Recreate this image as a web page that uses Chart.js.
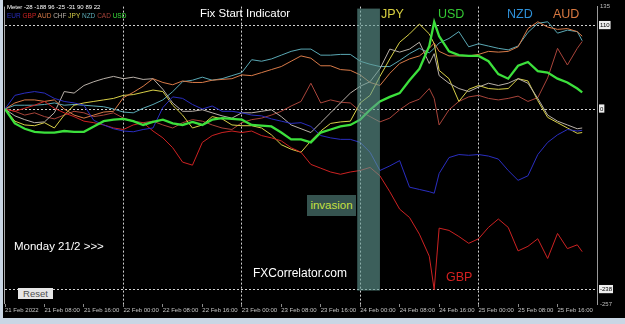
<!DOCTYPE html>
<html>
<head>
<meta charset="utf-8">
<script src="https://cdn.jsdelivr.net/npm/chart.js@4.4.1/dist/chart.umd.min.js"></script>
<style>
  html,body{margin:0;padding:0;width:625px;height:324px;overflow:hidden;background:#c9d6e4;font-family:"Liberation Sans",Arial,sans-serif}
  #wrap{position:absolute;left:3px;top:0;width:622px;height:318px;background:#000}
  canvas{display:block}
  .t{position:absolute;white-space:nowrap;line-height:1}
</style>
</head>
<body>
<div id="wrap"><canvas id="fx" width="622" height="318"></canvas></div>

<div class="t" style="left:7px;top:4px;font-size:6px;color:#fff">Meter -28 -188 96 -25 -31 90 89 22</div>
<div class="t" id="legend" style="left:7px;top:13px;font-size:6.5px"></div>
<div class="t" style="left:200px;top:8px;font-size:11.5px;color:#fff">Fix Start Indicator</div>
<div class="t" style="left:381px;top:8px;font-size:12.5px;color:#d8d040">JPY</div>
<div class="t" style="left:438px;top:8px;font-size:12.5px;color:#34c834">USD</div>
<div class="t" style="left:507px;top:8px;font-size:12.5px;color:#2e90d8">NZD</div>
<div class="t" style="left:553px;top:8px;font-size:12.5px;color:#d87840">AUD</div>
<div class="t" style="left:14px;top:241px;font-size:11.5px;color:#fff">Monday 21/2 &gt;&gt;&gt;</div>
<div class="t" style="left:253px;top:267px;font-size:12px;color:#fff">FXCorrelator.com</div>
<div class="t" style="left:446px;top:271px;font-size:12.5px;color:#d42020">GBP</div>
<div class="t" style="left:307px;top:195px;width:49px;height:21px;background:#35534f;color:#c8e040;font-size:11.5px;line-height:21px;text-align:center">invasion</div>
<div class="t" style="left:18px;top:288px;width:35px;height:11px;background:#e6e6e6;color:#505050;font-size:9.5px;line-height:11px;text-align:center">Reset</div>

<script>
// hours since 21 Feb 00:00
const hours = [0,2,4,6,8,10,12,14,16,18,20,22,24,26,28,30,32,34,36,38,40,42,44,46,48,50,52,54,56,58,
  60,62,64,66,68,70,72,74,76,78,80,82,84,86,87,88,90,92,94,96,98,100,102,104,106,108,110,112,114,116,117];

const eur = [0,18,21,23,21,14,10,8,5,-15,-21,-26,-29,-30,-27,-25,2,16,14,6,0,4,-3,-3,-5,-8,-9,-13,-16,-19,
  -18,-23,-35,-38,-40,-40,-44,-57,-81,-75,-68,-103,-106,-109,-111,-85,-64,-60,-61,-60,-62,-66,-81,-94,-88,-60,-44,-34,-27,-29,-28];
const gbp = [0,-3,1,5,10,1,-5,-10,-16,-18,-21,-25,-27,-21,-18,-29,-38,-51,-70,-74,-44,-35,-31,-29,-31,-29,-35,-38,-42,-51,
  -57,-73,-78,-83,-86,-83,-81,-77,-88,-109,-132,-143,-165,-194,-238,-157,-160,-168,-177,-171,-156,-145,-156,-187,-181,-171,-197,-164,-184,-179,-188];
const aud = [0,8,12,12,10,12,0,-8,-12,-8,-4,-3,15,22,30,40,35,32,37,35,35,38,39,40,45,44,48,52,56,63,
  70,67,57,57,52,51,45,35,31,47,60,66,70,80,87,76,70,70,70,72,76,75,76,82,106,115,108,105,106,102,96];
const chf = [0,-9,-14,-18,-17,-5,23,21,31,36,40,43,40,42,39,40,26,8,-3,-3,-1,-5,-9,-12,-5,-5,-3,-1,-10,-21,
  -26,-31,-18,-5,8,21,30,36,53,79,75,79,88,60,73,44,34,27,23,29,34,31,34,40,34,14,-8,-16,-21,-26,-25];
const jpy = [0,-16,-21,-22,-18,-25,-8,5,8,10,12,14,18,19,22,25,23,5,-8,-25,-21,-10,-13,-21,-22,-22,-25,-34,-47,-53,
  -57,-42,-29,-19,-17,-16,8,18,43,66,88,99,112,99,86,51,40,10,26,31,27,26,27,40,37,11,-11,-18,-25,-32,-31];
const nzd = [0,5,5,5,6,8,5,6,5,4,3,0,-4,-5,1,6,12,23,36,38,42,38,40,44,48,65,63,66,71,76,
  79,79,71,71,72,72,63,59,56,56,64,73,80,74,80,87,93,102,82,86,83,80,78,83,101,113,115,100,104,102,90];
const cad = [0,-3,-8,-5,-10,-13,-8,-3,-5,-10,-8,-5,-12,-16,-18,-16,-21,-25,-18,-14,-16,-21,-25,-27,-18,-14,-12,-8,-3,4,
  10,34,8,12,9,8,-3,-10,-17,-12,-1,8,13,27,14,-21,-1,10,16,18,14,12,14,17,10,15,41,80,58,80,89];
const usd = [0,-19,-26,-30,-31,-31,-29,-30,-30,-23,-16,-14,-13,-16,-21,-17,-14,-19,-21,-17,-21,-14,-12,-13,-14,-21,-22,-23,-31,-40,
  -40,-44,-31,-27,-23,-21,-14,-1,10,16,21,38,53,83,115,96,76,71,70,70,63,46,40,57,62,50,48,40,35,27,22];

const currencies = ['EUR','GBP','AUD','CHF','JPY','NZD','CAD','USD'];
const colors = ['#2a2ec0','#cc2222','#d87a48','#b8b0a8','#d8d048','#5aa8b4','#a8443a','#3ce03c'];
const series = [eur,gbp,aud,chf,jpy,nzd,cad,usd];

const xTickHours = [0,8,16,24,32,40,48,56,64,72,80,88,96,104,112];
const xTickLabels = ['21 Feb 2022','21 Feb 08:00','21 Feb 16:00','22 Feb 00:00','22 Feb 08:00','22 Feb 16:00',
  '23 Feb 00:00','23 Feb 08:00','23 Feb 16:00','24 Feb 00:00','24 Feb 08:00','24 Feb 16:00',
  '25 Feb 00:00','25 Feb 08:00','25 Feb 16:00'];
const dayLines = [24,48,72,96];
const yTicks = [135,110,0,-238,-257];
const yBoxed = [110,0,-238];
const invasion = [71.4,76];

document.getElementById('legend').innerHTML = currencies
  .map((c,i)=>`<span style="color:${colors[i]}">${c}</span>`).join(' ');

// left frame line under the lines, invasion band over them
const bandPlugin = {
  id:'band',
  beforeDatasetsDraw(chart) {
    const {ctx, chartArea:a} = chart;
    ctx.save();
    ctx.strokeStyle = '#a8a8a8';
    ctx.lineWidth = 1;
    ctx.beginPath(); ctx.moveTo(a.left-0.5, a.top); ctx.lineTo(a.left-0.5, a.bottom); ctx.stroke();
    ctx.restore();
  },
  afterDatasetsDraw(chart) {
    const {ctx, chartArea:a, scales:{x,y}} = chart;
    ctx.save();
    ctx.fillStyle = 'rgba(97,153,147,0.62)';
    const x1 = x.getPixelForValue(invasion[0]), x2 = x.getPixelForValue(invasion[1]);
    ctx.fillRect(x1, a.top+2, x2-x1, y.getPixelForValue(-238)+1-(a.top+2));
    ctx.restore();
  }
};

const font = {family:'"Liberation Sans", Arial, sans-serif', size:6};

new Chart(document.getElementById('fx'), {
  type:'line',
  data:{
    datasets: series.map((s,i)=>({
      label: currencies[i],
      data: s.map((v,j)=>({x:hours[j], y:v})),
      borderColor: colors[i],
      borderWidth: currencies[i]==='USD' ? 2.3 : 1,
      order: currencies[i]==='USD' ? -1 : i,
      pointRadius:0, tension:0, fill:false
    }))
  },
  options:{
    responsive:false, animation:false,
    layout:{ padding:{left:2, top:3, right:0, bottom:0} },
    plugins:{ legend:{display:false}, tooltip:{enabled:false} },
    scales:{
      x:{
        type:'linear', min:0, max:120,
        afterBuildTicks: s => { s.ticks = xTickHours.map(v=>({value:v})); },
        afterFit: s => { s.height = 14; },
        ticks:{ align:'start', padding:0, autoSkip:false, maxRotation:0, font, color:'#c4c4c4',
          callback:(v,i)=>xTickLabels[i] },
        grid:{ color: c => c.tick && dayLines.includes(c.tick.value) ? '#d0d0d0' : 'transparent',
          tickColor:'#8a8a8a', tickLength:3 },
        border:{ display:false, dash:[2,2] }
      },
      y:{
        position:'right', min:-257, max:135,
        afterBuildTicks: s => { s.ticks = yTicks.map(v=>({value:v})); },
        afterFit: s => { s.width = 28; },
        ticks:{ padding:3, font, callback:v=>String(v),
          color: c => c.tick && yBoxed.includes(c.tick.value) ? '#000' : '#bdbdbd',
          showLabelBackdrop: c => !!(c.tick && yBoxed.includes(c.tick.value)),
          backdropColor:'#eeeeee', backdropPadding:{top:1,bottom:0,left:1,right:1} },
        grid:{ color: c => c.tick && yBoxed.includes(c.tick.value) ? '#d0d0d0' : 'transparent', drawTicks:false },
        border:{ display:true, color:'#9a9a9a', dash:[2,2] }
      }
    }
  },
  plugins:[bandPlugin]
});
</script>
</body>
</html>
